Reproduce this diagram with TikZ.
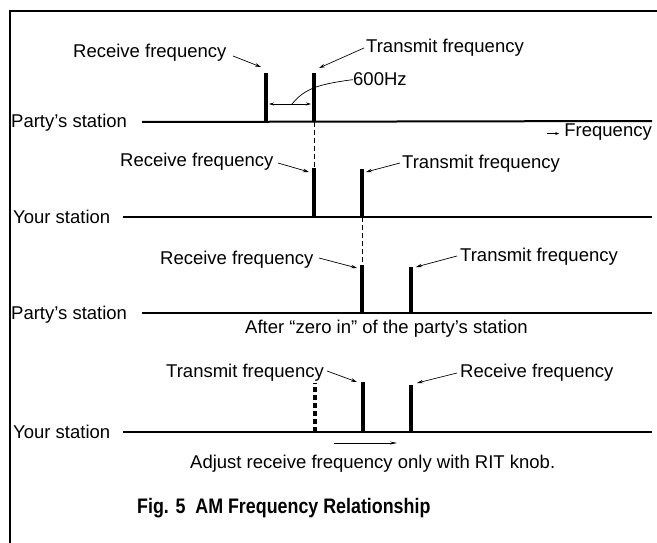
\documentclass[tikz,border=0pt]{standalone}
\usepackage{graphicx}
\usepackage{fontspec}
\setmainfont{Liberation Sans}
\usetikzlibrary{arrows.meta}
\begin{document}
\begin{tikzpicture}[x=1pt,y=-1pt,
  lbl/.style={anchor=base west, inner sep=0pt, font=\fontsize{18.5}{20}\selectfont},
  axisline/.style={line width=2pt},
  bar/.style={line width=4.8pt},
  dbar/.style={line width=3.6pt, dash pattern=on 5pt off 3pt},
  leader/.style={line width=0.7pt, -{Stealth[length=6pt,width=3.5pt]}},
  guide/.style={line width=0.8pt, dash pattern=on 5pt off 3pt},
  frame/.style={line width=2.2pt}]
\useasboundingbox (0,0) rectangle (657,543);
% frame
\coordinate (fbl) at (10,543); \coordinate (ftl) at (10,11); \coordinate (ftr) at (657,11);
\draw[frame] (fbl) -- (ftl) -- (ftr);

% ---------- Row 1: Party's station ----------
\node[lbl] (p1) at (11,128) {Party's station};
\coordinate (a1s) at (142,122); \coordinate (a1e) at (652,121);
\draw[axisline] (a1s) -- (a1e);
\coordinate (r1b) at (266,122); \coordinate (r1t) at (266,73);
\coordinate (t1b) at (314,122); \coordinate (t1t) at (314,73);
\draw[bar] (r1b) -- (r1t);
\draw[bar] (t1b) -- (t1t);
\node[lbl] (r1l) at (73,58) {Receive frequency};
\node[lbl] (t1l) at (366,53) {Transmit frequency};
\coordinate (r1ls) at (233,56); \coordinate (r1le) at (261,67);
\draw[leader] (r1ls) -- (r1le);
\coordinate (t1ls) at (364,48); \coordinate (t1le) at (319,68);
\draw[leader] (t1ls) -- (t1le);
\coordinate (hza) at (269,104); \coordinate (hzb) at (311,104);
\draw[line width=0.7pt, {Stealth[length=5pt,width=3pt]}-{Stealth[length=5pt,width=3pt]}] (hza) -- (hzb);
\node[lbl] (hz) at (353,86) {600Hz};
\coordinate (hzc) at (292,104);
\draw[line width=0.7pt] (hzc) .. controls (305,88) and (320,84) .. (hz.west);
\node[lbl, anchor=base east] (fq) at (652,137) {Frequency};
\draw[line width=0.7pt, -{Stealth[length=4pt,width=3pt]}] ([xshift=-17pt,yshift=-1pt]fq.west) -- ([xshift=-5pt,yshift=-1pt]fq.west);

% guide 1
\coordinate (r2t) at (314,168);
\draw[guide] (t1b) -- (r2t);

% ---------- Row 2: Your station ----------
\node[lbl] (y2) at (13,223) {Your station};
\coordinate (a2s) at (123,217); \coordinate (a2e) at (652,217);
\draw[axisline] (a2s) -- (a2e);
\coordinate (r2b) at (314,217);
\coordinate (t2b) at (362,217); \coordinate (t2t) at (362,169);
\draw[bar] (r2b) -- (r2t);
\draw[bar] (t2b) -- (t2t);
\node[lbl] (r2l) at (120,167) {Receive frequency};
\node[lbl] (t2l) at (402,168) {Transmit frequency};
\coordinate (r2ls) at (278,163); \coordinate (r2le) at (309,172);
\draw[leader] (r2ls) -- (r2le);
\coordinate (t2ls) at (400,163); \coordinate (t2le) at (366,172);
\draw[leader] (t2ls) -- (t2le);

% guide 2
\coordinate (r3t) at (362,265);
\draw[guide] (t2b) -- (r3t);

% ---------- Row 3: Party's station ----------
\node[lbl] (p3) at (11,319) {Party's station};
\coordinate (a3s) at (142,313); \coordinate (a3e) at (652,313);
\draw[axisline] (a3s) -- (a3e);
\coordinate (r3b) at (362,313);
\coordinate (t3b) at (411,313); \coordinate (t3t) at (411,267);
\draw[bar] (r3b) -- (r3t);
\draw[bar] (t3b) -- (t3t);
\node[lbl] (r3l) at (160,264) {Receive frequency};
\node[lbl] (t3l) at (460,261) {Transmit frequency};
\coordinate (r3ls) at (319,258); \coordinate (r3le) at (357,268);
\draw[leader] (r3ls) -- (r3le);
\coordinate (t3ls) at (457,256); \coordinate (t3le) at (416,267);
\draw[leader] (t3ls) -- (t3le);
\node[lbl] (zero) at (245,333) {After “zero in” of the party's station};

% ---------- Row 4: Your station ----------
\node[lbl] (y4) at (13,438) {Your station};
\coordinate (a4s) at (123,432); \coordinate (a4e) at (652,432);
\draw[axisline] (a4s) -- (a4e);
\coordinate (d4b) at (315,432); \coordinate (d4t) at (315,383);
\coordinate (t4b) at (363,432); \coordinate (t4t) at (363,382);
\coordinate (r4b) at (411,432); \coordinate (r4t) at (411,385);
\draw[dbar] (d4b) -- (d4t);
\draw[bar] (t4b) -- (t4t);
\draw[bar] (r4b) -- (r4t);
\node[lbl] (t4l) at (166,377) {Transmit frequency};
\node[lbl] (r4l) at (460,377) {Receive frequency};
\coordinate (t4ls) at (327,371); \coordinate (t4le) at (357,382);
\draw[leader] (t4ls) -- (t4le);
\coordinate (r4ls) at (457,373); \coordinate (r4le) at (417,383);
\draw[leader] (r4ls) -- (r4le);
\coordinate (rita) at (334,443); \coordinate (ritb) at (397,443);
\draw[line width=0.7pt, -{Stealth[length=7pt,width=3pt]}] (rita) -- (ritb);
\node[lbl] (adj) at (190,468) {Adjust receive frequency only with RIT knob.};

% title
\node[anchor=base west, inner sep=0pt] (title) at (137,513)
  {\scalebox{0.85}[1]{\fontsize{21}{24}\selectfont\bfseries Fig. 5\ \ AM Frequency Relationship}};
\end{tikzpicture}
\end{document}
